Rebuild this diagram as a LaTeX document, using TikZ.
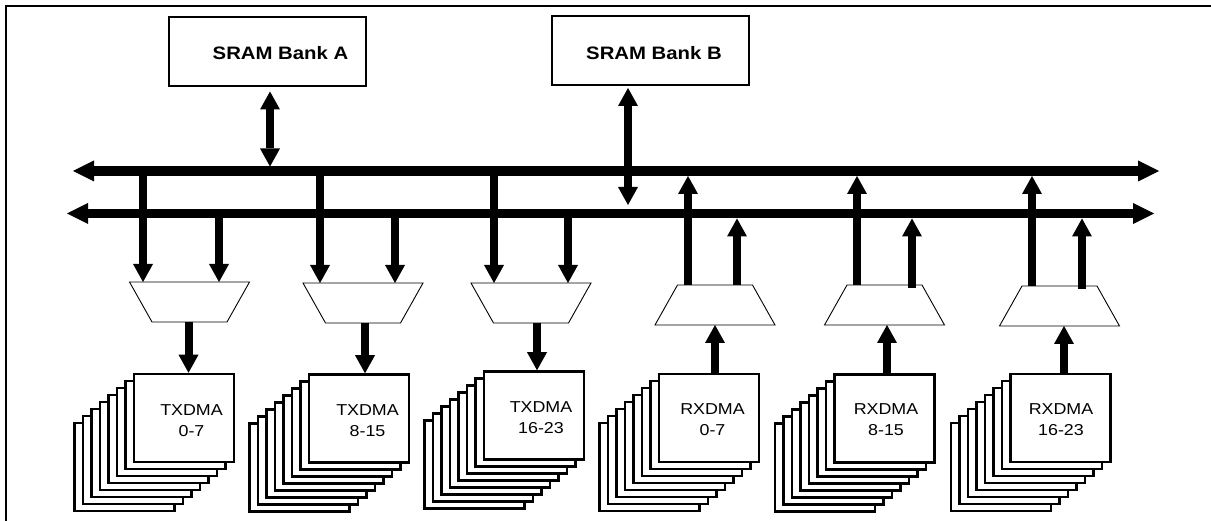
\documentclass[tikz,border=0pt]{standalone}
\usepackage{fontspec}
\setmainfont{Liberation Sans}
\newfontfamily\lblfont[FakeStretch=1.13]{Liberation Sans}
\usetikzlibrary{arrows.meta}
\tikzset{
  frameline/.style={line width=2.5pt},
  bus/.style={line width=9.5pt,{Triangle[length=21pt,width=21pt,line width=0pt]}-{Triangle[length=21pt,width=21pt,line width=0pt]}},
  vline/.style={line width=8pt,-{Triangle[length=18pt,width=20pt,line width=0pt]}},
  dbl/.style={line width=8pt,{Triangle[length=18pt,width=20pt,line width=0pt]}-{Triangle[length=18pt,width=20pt,line width=0pt]}},
  mem/.style={draw,line width=2pt,minimum width=197pt,minimum height=69pt,inner sep=0pt},
  memtext/.style={font=\lblfont\bfseries\fontsize{18}{20}\selectfont,inner sep=0pt},
  dma/.style={draw,fill=white,line width=2.5pt,minimum width=100pt,minimum height=88pt,inner sep=0pt},
  dmatext/.style={font=\lblfont\fontsize{15.8}{21}\selectfont,align=center,inner sep=0pt},
  muxline/.style={draw,fill=white,line width=0.9pt,line join=miter},
}
\newcommand\dmastack[3]{%
  \foreach \k in {7,6,...,1}{\node[dma] at ({#2-8.5*\k},{#3+7*\k}) {};}
  \node[dma] (#1) at (#2,#3) {};
}
% name, cx, cy : wide top (TX mux)
\newcommand\txmux[3]{%
  \coordinate (#1) at (#2,#3);
  \coordinate (#1-n) at (#2,#3-20);
  \coordinate (#1-s) at (#2,#3+20);
  \path[muxline] ({#2-60},{#3-20}) -- ({#2+60},{#3-20}) -- ({#2+37.5},{#3+20}) -- ({#2-37.5},{#3+20}) -- cycle;
}
% name, cx, cy : wide bottom (RX mux)
\newcommand\rxmux[3]{%
  \coordinate (#1) at (#2,#3);
  \coordinate (#1-n) at (#2,#3-20);
  \coordinate (#1-s) at (#2,#3+20);
  \path[muxline] ({#2-37.5},{#3-20}) -- ({#2+37.5},{#3-20}) -- ({#2+60},{#3+20}) -- ({#2-60},{#3+20}) -- cycle;
}
\begin{document}
\begin{tikzpicture}[x=1pt,y=-1pt]
\useasboundingbox (0,0) rectangle (1211,521);
% frame (only top and left visible)
\coordinate (fbl) at (6,530);
\coordinate (ftl) at (6,6);
\coordinate (ftr) at (1220,6);
\draw[frameline] (fbl) -- (ftl) -- (ftr);

% SRAM banks
\node[mem] (sramA) at (267,52) {};
\node[memtext] (sramAt) at (280.5,53) {SRAM Bank A};
\node[mem] (sramB) at (650,50.5) {};
\node[memtext] (sramBt) at (654,53) {SRAM Bank B};

% buses
\coordinate (b1l) at (73,171);
\coordinate (b1r) at (1159,171);
\coordinate (b2l) at (67,213.5);
\coordinate (b2r) at (1154,213.5);
\draw[bus] (b1l) -- (b1r);
\draw[bus] (b2l) -- (b2r);

% bank connections
\coordinate (bA) at (270,166.5);
\coordinate (bB) at (628,205);
\draw[dbl,shorten <=4pt] (bA |- sramA.south) -- (bA);
\draw[dbl,shorten <=2pt] (bB |- sramB.south) -- (bB);

% muxes
\txmux{tx1}{189.5}{302}
\txmux{tx2}{363}{303}
\txmux{tx3}{531}{303}
\rxmux{rx1}{715}{305}
\rxmux{rx2}{884.5}{305}
\rxmux{rx3}{1059.5}{306}

% TX drops
\coordinate (d1a) at (143,171);   \coordinate (d1b) at (219,213.5);
\coordinate (d2a) at (320,171);   \coordinate (d2b) at (395,213.5);
\coordinate (d3a) at (494,171);   \coordinate (d3b) at (568,213.5);
\draw[vline] (d1a) -- (d1a |- tx1-n);
\draw[vline] (d1b) -- (d1b |- tx1-n);
\draw[vline] (d2a) -- (d2a |- tx2-n);
\draw[vline] (d2b) -- (d2b |- tx2-n);
\draw[vline] (d3a) -- (d3a |- tx3-n);
\draw[vline] (d3b) -- (d3b |- tx3-n);

% RX rises
\coordinate (u1a) at (688,176);   \coordinate (u1b) at (737,218.5);
\coordinate (u2a) at (857,176);   \coordinate (u2b) at (912,218.5);
\coordinate (u3a) at (1032,176);  \coordinate (u3b) at (1082,218.5);
\draw[vline] (u1a |- rx1-n) -- (u1a);
\draw[vline] (u1b |- rx1-n) -- (u1b);
\draw[vline] (u2a |- rx2-n) -- (u2a);
\draw[vline] ([yshift=-3pt]u2b |- rx2-n) -- (u2b);
\draw[vline] (u3a |- rx3-n) -- (u3a);
\draw[vline] ([yshift=-3pt]u3b |- rx3-n) -- (u3b);

% DMA stacks
\dmastack{dma1}{184}{418}
\dmastack{dma2}{359}{418.5}
\dmastack{dma3}{534}{415.5}
\dmastack{dma4}{709}{418}
\dmastack{dma5}{884.5}{418.5}
\dmastack{dma6}{1060.5}{418}

\node[dmatext] (l1) at (191.5,420.5) {TXDMA\\0-7};
\node[dmatext] (l2) at (367.5,420.5) {TXDMA\\8-15};
\node[dmatext] (l3) at (541,417.5) {TXDMA\\16-23};
\node[dmatext] (l4) at (712.5,420) {RXDMA\\0-7};
\node[dmatext] (l5) at (886,420) {RXDMA\\8-15};
\node[dmatext] (l6) at (1061,420) {RXDMA\\16-23};

% mux <-> DMA
\coordinate (m1) at (188.5,0); \coordinate (m2) at (365,0); \coordinate (m3) at (537,0);
\coordinate (m4) at (715,0);   \coordinate (m5) at (887,0); \coordinate (m6) at (1064,0);
\draw[vline] (m1 |- tx1-s) -- (m1 |- dma1.north);
\draw[vline] (m2 |- tx2-s) -- (m2 |- dma2.north);
\draw[vline] (m3 |- tx3-s) -- (m3 |- dma3.north);
\draw[vline] (m4 |- dma4.north) -- (m4 |- rx1-s);
\draw[vline] (m5 |- dma5.north) -- (m5 |- rx2-s);
\draw[vline] (m6 |- dma6.north) -- (m6 |- rx3-s);
\end{tikzpicture}
\end{document}
